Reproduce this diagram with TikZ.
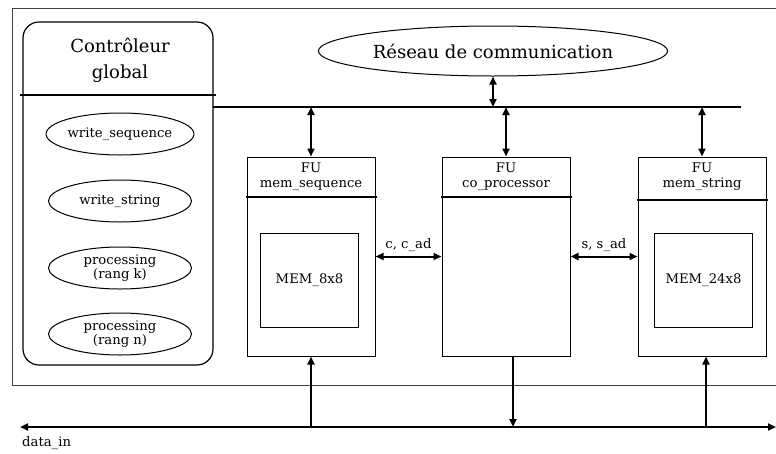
\documentclass[tikz,border=0pt]{standalone}
\usepackage{fontspec}
\setmainfont{DejaVu Serif}
\usetikzlibrary{positioning}
\usetikzlibrary{arrows.meta}
\usetikzlibrary{shapes}

\newcommand{\smallfont}{\fontsize{13.2}{14.5}\selectfont}
\newcommand{\bigfont}{\fontsize{18}{26}\selectfont}

\begin{document}
\begin{tikzpicture}[x=1pt,y=-1pt,
  frame/.style = {draw=black!75, line width=1pt},
  bus/.style = {line width=2.4pt},
  link/.style = {line width=2pt},
  rule/.style = {line width=2pt},
  task/.style = {ellipse, draw, line width=1pt, minimum width=143pt,
    minimum height=42pt, inner sep=0pt, align=center, font=\smallfont},
  fubox/.style = {draw, line width=1pt, minimum width=128pt,
    minimum height=199pt, inner sep=0pt},
  membox/.style = {draw, line width=1pt, minimum width=98pt,
    minimum height=94pt, inner sep=0pt, font=\smallfont},
  title/.style = {below=3pt, align=center, font=\smallfont},
  >={Triangle[length=8pt,width=7pt]},
]

  \useasboundingbox (0,0) rectangle (776,453);

  % outer frame
  \draw[frame] (790,8) -- (12,8) -- (12,385) -- (790,385);

  % global controller
  \node[draw, line width=1.2pt, rounded corners=16pt, minimum width=190pt,
    minimum height=343pt] (ctrl) at (118,193.5) {};
  \node[align=center, font=\bigfont] (ctrltitle) at (120,60)
    {Contrôleur\\global};
  \draw[rule] ([xshift=-2pt,yshift=-74pt]ctrl.north west)
    -- ([xshift=2pt,yshift=-74pt]ctrl.north east);

  \node[task] (wseq) at (120,134) {write\_sequence};
  \node[task] (wstr) at (120,201) {write\_string};
  \node[task] (prk) at (120,268) {processing\\(rang k)};
  \node[task] (prn) at (120,334) {processing\\(rang n)};

  % network
  \node[ellipse, draw, line width=1pt, minimum width=300pt,
    minimum height=50pt, font=\bigfont] (reseau) at (493,51)
    {Réseau de communication};

  \coordinate (busl) at (213,107);
  \coordinate (busr) at (741,107);
  \draw[bus] (busl) -- (busr);

  % functional units
  \node[fubox] (fuseq) at (311,256.5) {};
  \node[fubox] (fucop) at (506,256.5) {};
  \node[fubox] (fustr) at (702,256.5) {};

  \node[title] (tseq) at (fuseq.north) {FU\\mem\_sequence};
  \node[title] (tcop) at (fucop.north) {FU\\co\_processor};
  \node[title] (tstr) at (fustr.north) {FU\\mem\_string};

  \draw[rule] ([xshift=-1pt,yshift=-40pt]fuseq.north west)
    -- ([xshift=1pt,yshift=-40pt]fuseq.north east);
  \draw[rule] ([xshift=-1pt,yshift=-40pt]fucop.north west)
    -- ([xshift=1pt,yshift=-40pt]fucop.north east);
  \draw[rule] ([xshift=-1pt,yshift=-43pt]fustr.north west)
    -- ([xshift=1pt,yshift=-43pt]fustr.north east);

  \node[membox] (mseq) at (309.5,280) {MEM\_8x8};
  \node[membox] (mstr) at (703.5,280) {MEM\_24x8};

  % links
  \draw[<->,link] (reseau.south) -- (reseau.south |- busl);
  \draw[<->,link] (fuseq.north |- busl) -- (fuseq.north);
  \draw[<->,link] (fucop.north |- busl) -- (fucop.north);
  \draw[<->,link] (fustr.north |- busl) -- (fustr.north);

  \draw[<->,link] (fuseq) -- node[above=1pt, font=\smallfont] (lc)
    {c, c\_ad} (fucop);
  \draw[<->,link] (fucop) -- node[above=1pt, font=\smallfont] (ls)
    {s, s\_ad} (fustr);

  % data bus
  \coordinate (dinl) at (20,427);
  \coordinate (dinr) at (776,427);
  \draw[<->,bus] (dinl) -- (dinr);
  \node[anchor=north west, inner sep=0pt, font=\smallfont] (din)
    at (22,436) {data\_in};

  \draw[->,link] (fuseq.south |- dinl) -- (fuseq.south);
  \draw[->,link] ([xshift=7pt]fucop.south) -- ([xshift=7pt]fucop.south |- dinl);
  \draw[->,link] ([xshift=4pt]fustr.south |- dinl) -- ([xshift=4pt]fustr.south);

\end{tikzpicture}
\end{document}
